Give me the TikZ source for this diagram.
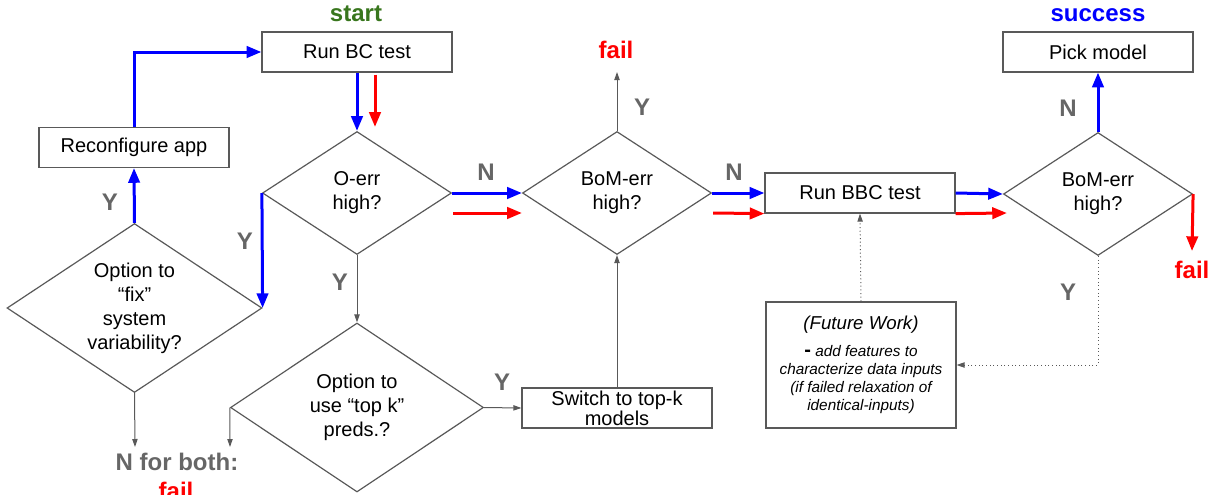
\documentclass[tikz,border=0pt]{standalone}
\usepackage{fontspec}
\setmainfont{Liberation Sans}
\usetikzlibrary{shapes.geometric,arrows.meta}
\definecolor{linegray}{HTML}{595959}
\definecolor{labelgray}{HTML}{666666}
\definecolor{startgreen}{HTML}{38761D}
\definecolor{okblue}{HTML}{0000FF}
\definecolor{failred}{HTML}{FF0000}
\tikzset{
	box/.style={draw=linegray,line width=0.9pt,minimum width=142.5pt,minimum height=30pt,inner sep=0pt,align=center,font=\fontsize{15}{15}\selectfont},
	decision/.style={draw=linegray,line width=0.9pt,diamond,aspect=1.5,inner sep=0pt,align=center,font=\fontsize{15}{18}\selectfont},
	blueflow/.style={okblue,line width=2.25pt,-{Triangle[length=11pt,width=8.5pt]}},
	redflow/.style={failred,line width=2.25pt,-{Triangle[length=11pt,width=8.5pt]}},
	grayflow/.style={linegray,line width=0.75pt,-{Triangle[length=6pt,width=4pt]}},
	dotflow/.style={linegray,line width=0.75pt,dotted,-{Triangle[length=6pt,width=4pt]}},
	answer/.style={labelgray,inner sep=0pt,font=\fontsize{18}{18}\selectfont\bfseries},
	verdict/.style={inner sep=0pt,font=\fontsize{18}{18}\selectfont\bfseries}
}
\begin{document}
\begin{tikzpicture}[x=0.75pt,y=-0.75pt]
				\useasboundingbox (0,0) rectangle (1214,494);

				\node[box] (runbc) at (357,52) {Run BC test};
				\node[box] (reconf) at (134,147.5) {Reconfigure app};
				\node[box] (pick) at (1098,52) {Pick model};
				\node[box] (runbbc) at (860,193) {Run BBC test};
				\node[box] (switch) at (617,408) {Switch to top-k\\models};
				\node[box,minimum height=94.5pt,font=\fontsize{11.5}{13.5}\selectfont\itshape] (future) at (861,365)
					{{\fontsize{14}{14}\selectfont(Future Work)}\\[7pt]{\upshape\bfseries\fontsize{15}{13.5}\selectfont -} add features to\\characterize data inputs\\(if failed relaxation of\\identical-inputs)};

				\node[decision,minimum width=141.75pt,minimum height=92.25pt] (oerr) at (357,193) {O-err\\high?};
				\node[decision,minimum width=141.75pt,minimum height=92.25pt] (bom1) at (617,193) {BoM-err\\high?};
				\node[decision,minimum width=141.75pt,minimum height=92.25pt] (bom2) at (1098,194) {BoM-err\\high?};
				\node[decision,minimum width=191.25pt,minimum height=126.75pt] (fixopt) at (134.5,308) {Option to\\``fix''\\system\\variability?};
				\node[decision,minimum width=189.75pt,minimum height=126.75pt] (topk) at (357,407.5) {Option to\\use ``top k''\\preds.?};

				\node[verdict,startgreen] (start) at (356,14) {start};
				\node[verdict,okblue] (success) at (1098,15) {success};
				\node[verdict,failred] (fail1) at (616,50) {fail};
				\node[verdict,failred] (fail2) at (1192,270) {fail};
				\node[answer,anchor=base] (nboth) at (177,470) {N for both:};
				\node[verdict,failred,anchor=base] (fail3) at (176,499) {fail};

				\node[answer] (yfix) at (110,202) {Y};
				\node[answer] (yoerr) at (245,241) {Y};
				\node[answer] (ytopk) at (340,282) {Y};
				\node[answer] (noerr) at (486,172) {N};
				\node[answer] (ybom1) at (642,107) {Y};
				\node[answer] (nbom1) at (734,172) {N};
				\node[answer] (yswitch) at (502,382) {Y};
				\node[answer] (nbom2) at (1068,108) {N};
				\node[answer] (ybom2) at (1068,292) {Y};

				\coordinate (fixend) at (135,447);
				\coordinate (topkend) at (230,447);
				\coordinate (fail1end) at (617,72);
				\coordinate (fail2end) at (1192,251);

				\draw[blueflow] (reconf.north) |- (runbc.west);
				\draw[blueflow] (runbc.south) -- (oerr.north);
				\draw[redflow] ([shift={(18,2)}]runbc.south) -- ([shift={(18,-4)}]oerr.north);
				\draw[blueflow] (oerr.west) -- (fixopt.east);
				\draw[blueflow] (fixopt.north) -- (reconf.south);
				\draw[grayflow] (fixopt.south) -- (fixend);
				\draw[grayflow] (oerr.south) -- (topk.north);
				\draw[grayflow] (topk.west) -- (topkend);
				\draw[grayflow] (topk.east) -- (switch.west);
				\draw[grayflow] (switch.north) -- (bom1.south);
				\draw[grayflow] (bom1.north) -- (fail1end);

				\draw[blueflow] (oerr.east) -- (bom1.west);
				\draw[redflow] ([shift={(1,20)}]oerr.east) -- ([shift={(0,20)}]bom1.west);
				\draw[blueflow] (bom1.east) -- (runbbc.west);
				\draw[redflow] ([shift={(1,20)}]bom1.east) -- (runbbc.south west);
				\draw[blueflow] (runbbc.east) -- (bom2.west);
				\draw[redflow] (runbbc.south east) -- ([shift={(4,19)}]bom2.west);
				\draw[blueflow] (bom2.north) -- (pick.south);
				\draw[redflow] (bom2.east) -- (fail2end);

				\draw[dotflow] (bom2.south) |- (future.east);
				\draw[dotflow] (future.north) -- (runbbc.south);
\end{tikzpicture}
\end{document}
